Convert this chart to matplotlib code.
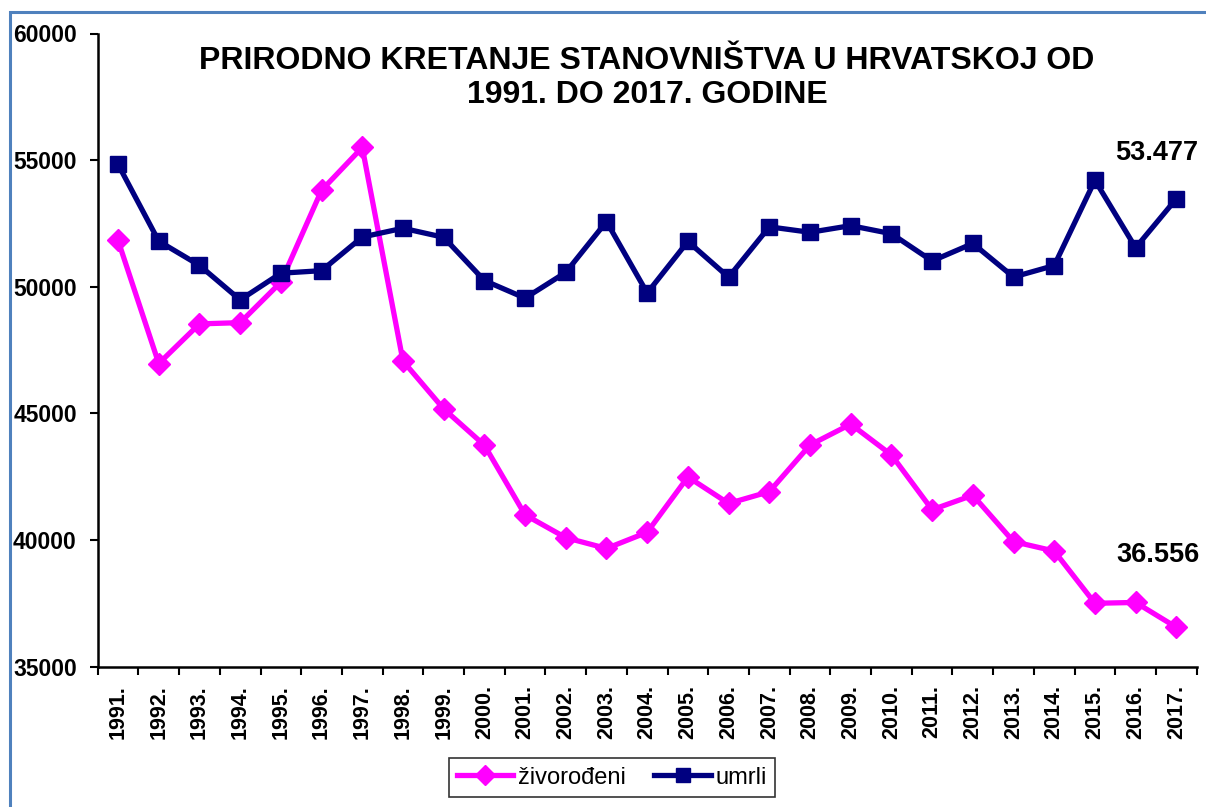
import matplotlib
matplotlib.use("Agg")
import matplotlib.pyplot as plt
from matplotlib.patches import Rectangle
import numpy as np

years = ["1991.", "1992.", "1993.", "1994.", "1995.", "1996.", "1997.", "1998.", "1999.",
         "2000.", "2001.", "2002.", "2003.", "2004.", "2005.", "2006.", "2007.", "2008.",
         "2009.", "2010.", "2011.", "2012.", "2013.", "2014.", "2015.", "2016.", "2017."]
zivorodeni = [51829, 46970, 48535, 48584, 50182, 53811, 55501, 47068, 45179,
              43746, 40993, 40094, 39668, 40307, 42492, 41446, 41910, 43753,
              44577, 43361, 41197, 41771, 39939, 39566, 37503, 37537, 36556]
umrli = [54832, 51800, 50846, 49482, 50536, 50636, 51964, 52311, 51953,
         50246, 49552, 50569, 52575, 49756, 51790, 50378, 52367, 52151,
         52414, 52096, 51019, 51710, 50386, 50839, 54205, 51542, 53477]
yticks = [35000, 40000, 45000, 50000, 55000, 60000]
title = "PRIRODNO KRETANJE STANOVNIŠTVA U HRVATSKOJ OD\n1991. DO 2017. GODINE"

plt.rcParams['font.family'] = ['Liberation Sans', 'DejaVu Sans']

W, H = 1206, 807
fig = plt.figure(figsize=(W / 100, H / 100), dpi=100)
fig.patch.set_facecolor('white')

# outer chart border (blue)
fig.patches.append(Rectangle((10 / W, -0.1), 1.2, 1 - 12 / H + 0.1,
                             transform=fig.transFigure, fill=False,
                             edgecolor='#4F81BD', linewidth=2.2))

ax = fig.add_axes([97.7 / W, 1 - 666.7 / H, (1196.7 - 97.7) / W, (666.7 - 33.5) / H])
x = np.arange(len(years))

ax.plot(x, zivorodeni, color='#FF00FF', linewidth=3.8, marker='D', markersize=11,
        label='živorođeni', solid_joinstyle='miter')
ax.plot(x, umrli, color='#000080', linewidth=3.8, marker='s', markersize=11,
        label='umrli', solid_joinstyle='miter')

ax.set_xlim(-0.5, len(years) - 0.5)
ax.set_ylim(35000, 60000)
ax.set_yticks(yticks)
ax.set_yticklabels([str(v) for v in yticks], fontsize=16.5, fontweight='bold')
ax.tick_params(axis='y', direction='out', length=6, width=1.5, pad=9)

ax.set_xticks(np.arange(-0.5, len(years), 1))
ax.set_xticklabels([])
ax.set_xticks(x, minor=True)
ax.set_xticklabels(years, minor=True, rotation=90, fontsize=15.5, fontweight='bold')
ax.tick_params(axis='x', which='major', direction='out', length=6, width=1.5)
ax.tick_params(axis='x', which='minor', length=0, pad=13)

for s in ['top', 'right']:
    ax.spines[s].set_visible(False)
for s in ['left', 'bottom']:
    ax.spines[s].set_linewidth(1.8)

fig.text(647 / W, 1 - 78 / H, title, ha='center', va='center', fontsize=23,
         fontweight='bold', linespacing=1.2)

ax.annotate(f"{umrli[-1] / 1000:.3f}", xy=(x[-1], umrli[-1]), xytext=(-20, 46),
            textcoords='offset pixels', ha='center', va='center',
            fontsize=19.5, fontweight='bold')
ax.annotate(f"{zivorodeni[-1] / 1000:.3f}", xy=(x[-1], zivorodeni[-1]), xytext=(-18, 72),
            textcoords='offset pixels', ha='center', va='center',
            fontsize=19.5, fontweight='bold')

leg = fig.legend(loc='center', bbox_to_anchor=(612 / W, 1 - 777.5 / H), ncol=2,
                 fontsize=17, frameon=True, fancybox=False, edgecolor='black',
                 handlelength=2.4, columnspacing=1.2, handletextpad=0.2,
                 borderpad=0.35, markerscale=0.9)
leg.get_frame().set_linewidth(1.2)

fig.savefig('out.png', dpi=100, facecolor='white')
